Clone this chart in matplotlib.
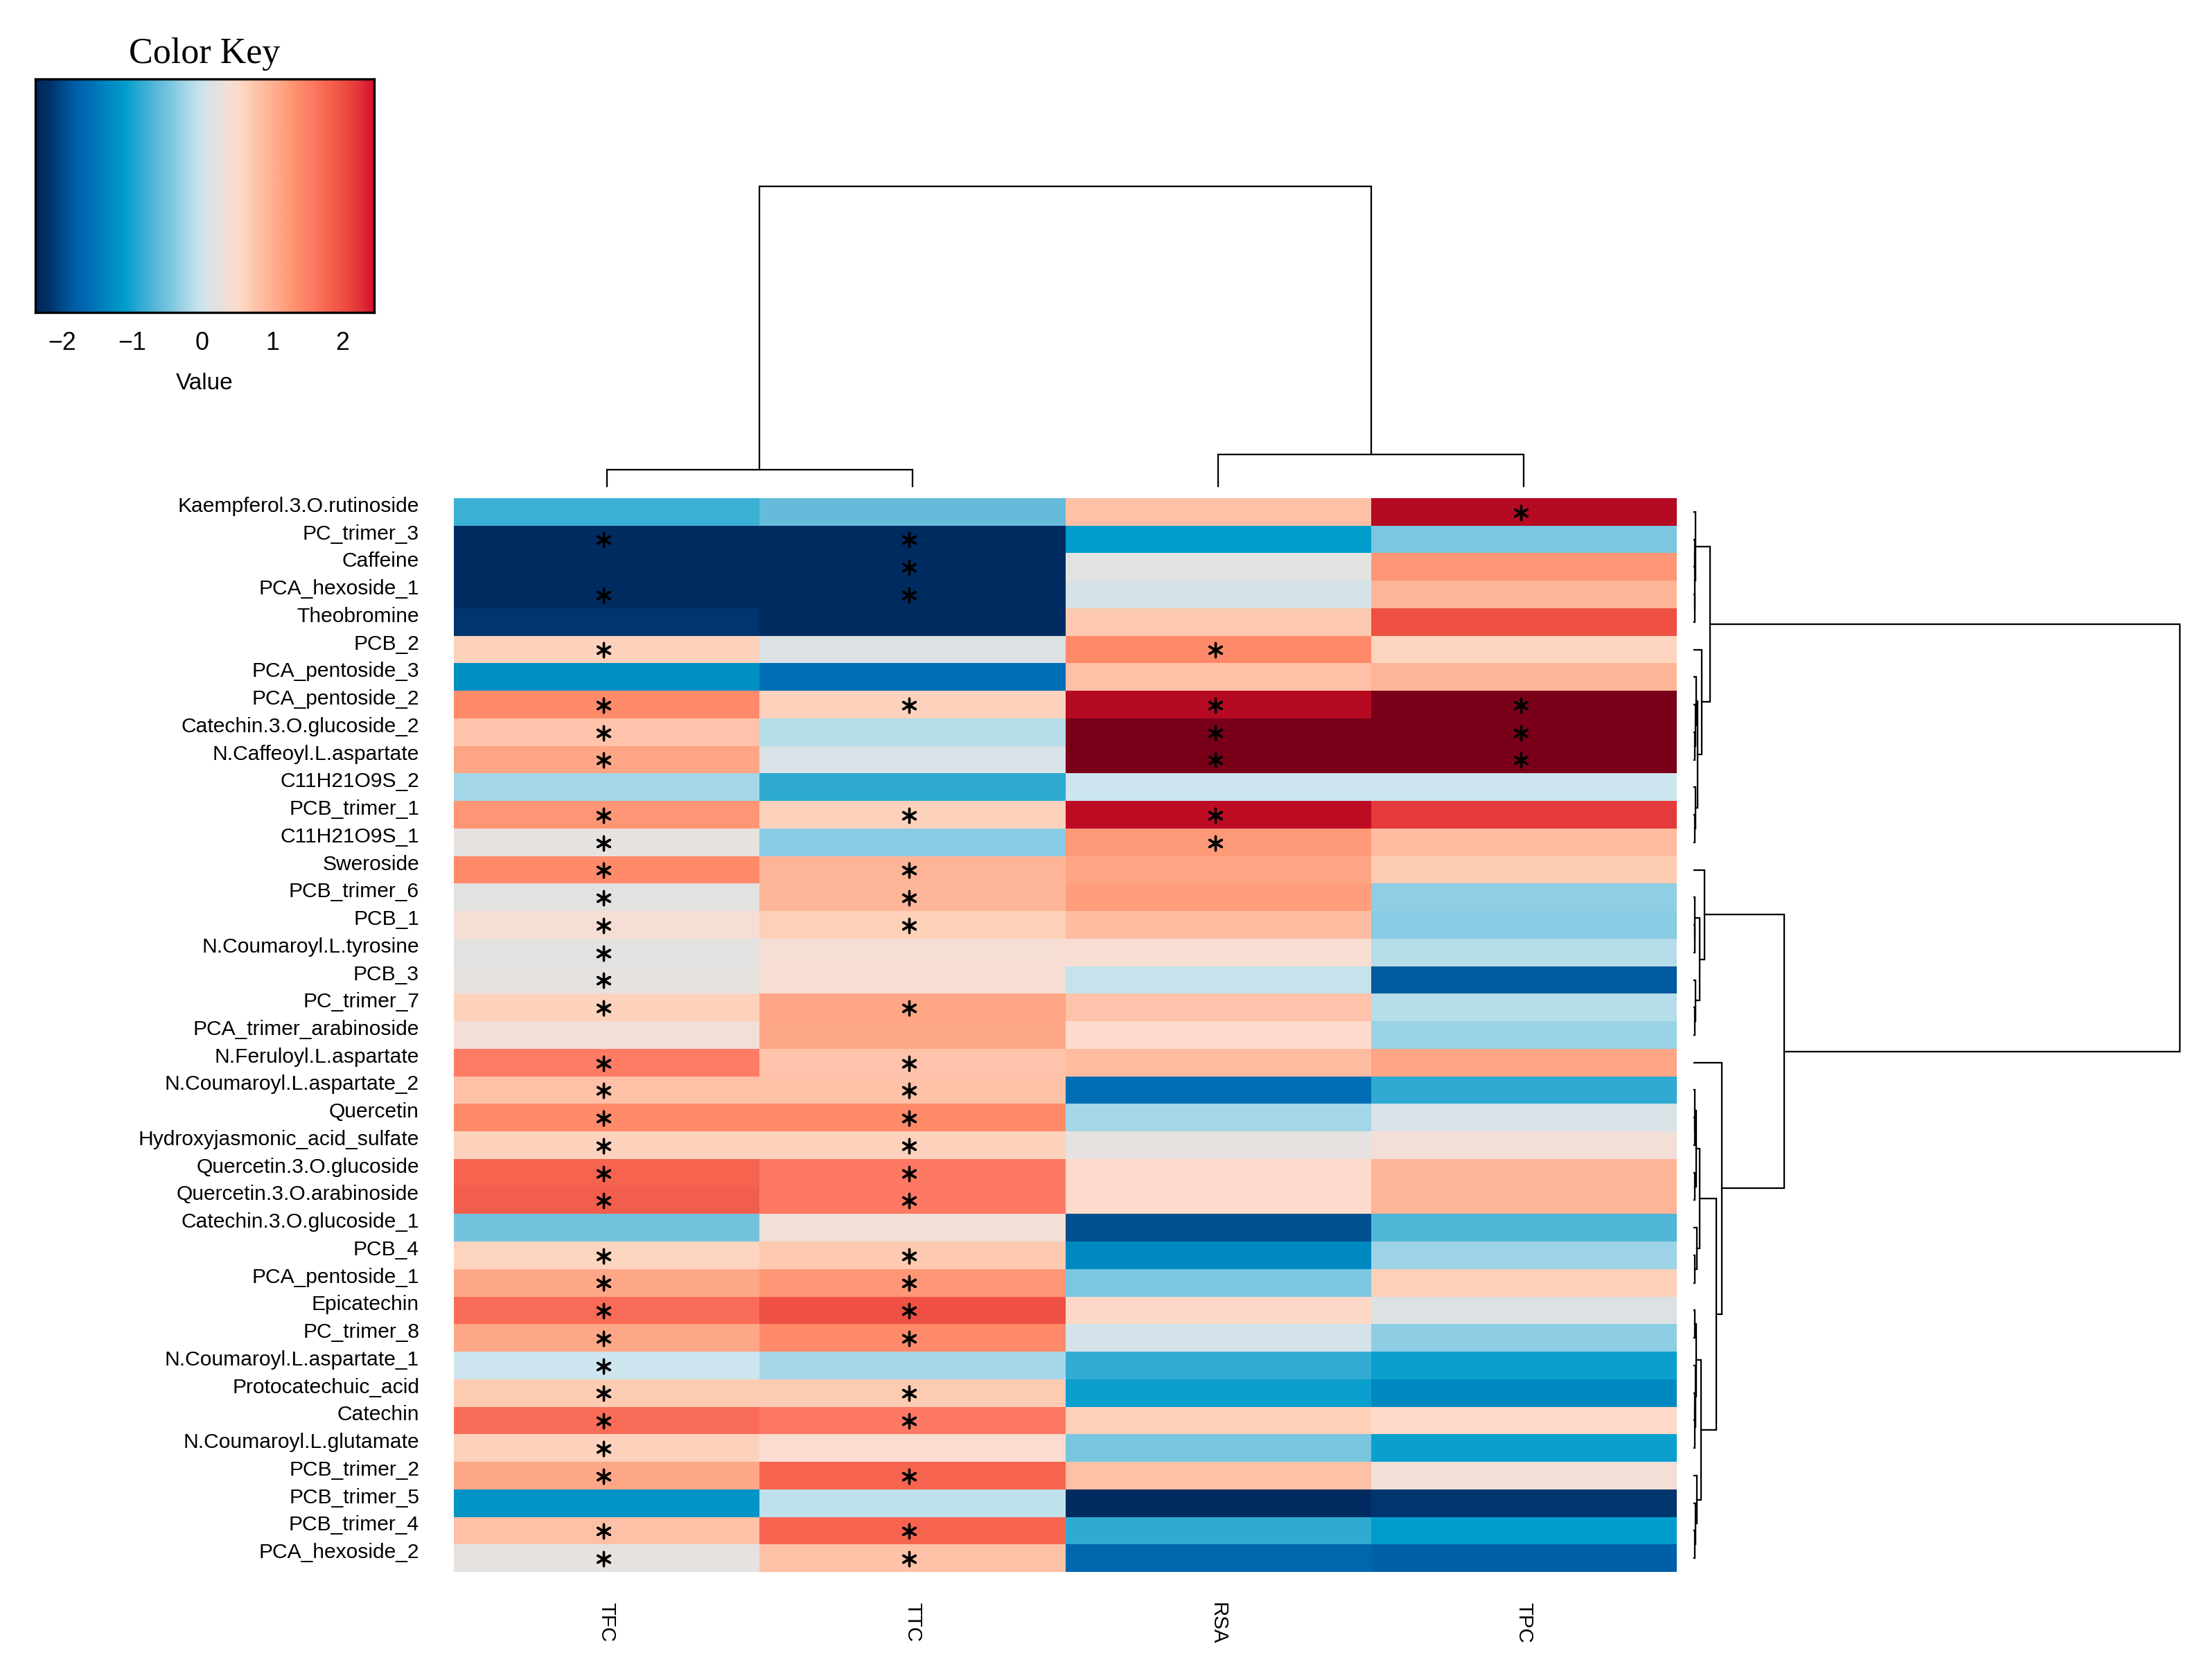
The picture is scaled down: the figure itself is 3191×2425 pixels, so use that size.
import numpy as np
import matplotlib
matplotlib.use("Agg")
import matplotlib.pyplot as plt
from matplotlib.colors import LinearSegmentedColormap, Normalize

# ---------------- data ----------------
rows = ["Kaempferol.3.O.rutinoside", "PC_trimer_3", "Caffeine", "PCA_hexoside_1",
        "Theobromine", "PCB_2", "PCA_pentoside_3", "PCA_pentoside_2",
        "Catechin.3.O.glucoside_2", "N.Caffeoyl.L.aspartate", "C11H21O9S_2",
        "PCB_trimer_1", "C11H21O9S_1", "Sweroside", "PCB_trimer_6", "PCB_1",
        "N.Coumaroyl.L.tyrosine", "PCB_3", "PC_trimer_7", "PCA_trimer_arabinoside",
        "N.Feruloyl.L.aspartate", "N.Coumaroyl.L.aspartate_2", "Quercetin",
        "Hydroxyjasmonic_acid_sulfate", "Quercetin.3.O.glucoside",
        "Quercetin.3.O.arabinoside", "Catechin.3.O.glucoside_1", "PCB_4",
        "PCA_pentoside_1", "Epicatechin", "PC_trimer_8", "N.Coumaroyl.L.aspartate_1",
        "Protocatechuic_acid", "Catechin", "N.Coumaroyl.L.glutamate", "PCB_trimer_2",
        "PCB_trimer_5", "PCB_trimer_4", "PCA_hexoside_2"]
cols = ["TFC", "TTC", "RSA", "TPC"]

TFC = [-0.8, -2.3, -2.3, -2.3, -2.15, 0.62, -1.28, 1.4, 0.77, 1.12, -0.25, 1.28, 0.25,
       1.4, 0.2, 0.4, 0.2, 0.25, 0.62, 0.35, 1.55, 0.8, 1.4, 0.62, 1.8, 1.87,
       -0.5, 0.6, 1.1, 1.72, 1.1, 0.0, 0.7, 1.72, 0.62, 1.1, -1.2, 0.8, 0.25]
TTC = [-0.6, -2.3, -2.3, -2.3, -2.3, 0.15, -1.6, 0.62, -0.15, 0.1, -0.9, 0.62, -0.38,
       0.95, 0.92, 0.65, 0.4, 0.42, 1.12, 1.1, 0.77, 0.78, 1.4, 0.62, 1.58, 1.58,
       0.35, 0.72, 1.28, 2.0, 1.4, -0.23, 0.7, 1.58, 0.45, 1.8, -0.08, 1.8, 0.78]
RSA = [0.8, -1.1, 0.2, 0.08, 0.72, 1.4, 0.8, 2.8, 3.3, 3.3, 0.0, 2.72, 1.25,
       1.12, 1.2, 0.85, 0.42, -0.05, 0.77, 0.5, 0.85, -1.6, -0.25, 0.25, 0.5, 0.5,
       -1.95, -1.35, -0.45, 0.55, 0.07, -0.87, -1.05, 0.65, -0.48, 0.8, -2.3, -0.9, -1.7]
TPC = [2.8, -0.45, 1.28, 0.95, 2.0, 0.6, 0.95, 3.3, 3.3, 3.3, 0.0, 2.2, 0.85,
       0.7, -0.35, -0.38, -0.15, -1.85, -0.15, -0.3, 1.12, -0.9, 0.1, 0.35, 0.95, 0.95,
       -0.7, -0.28, 0.65, 0.15, -0.36, -1.05, -1.35, 0.52, -1.05, 0.35, -2.15, -1.1, -1.8]

sig_TFC = [0, 1, 0, 1, 0, 1, 0, 1, 1, 1, 0, 1, 1, 1, 1, 1, 1, 1, 1, 0, 1, 1, 1, 1, 1, 1,
           0, 1, 1, 1, 1, 1, 1, 1, 1, 1, 0, 1, 1]
sig_TTC = [0, 1, 1, 1, 0, 0, 0, 1, 0, 0, 0, 1, 0, 1, 1, 1, 0, 0, 1, 0, 1, 1, 1, 1, 1, 1,
           0, 1, 1, 1, 1, 0, 1, 1, 0, 1, 0, 1, 1]
sig_RSA = [0, 0, 0, 0, 0, 1, 0, 1, 1, 1, 0, 1, 1, 0, 0, 0, 0, 0, 0, 0, 0, 0, 0, 0, 0, 0,
           0, 0, 0, 0, 0, 0, 0, 0, 0, 0, 0, 0, 0]
sig_TPC = [1, 0, 0, 0, 0, 0, 0, 1, 1, 1, 0, 0, 0, 0, 0, 0, 0, 0, 0, 0, 0, 0, 0, 0, 0, 0,
           0, 0, 0, 0, 0, 0, 0, 0, 0, 0, 0, 0, 0]

# dendrograms: [merge height, left, right]; ints are leaf indices
A1 = [3, 0, [2, [1, 1, 2], [1, 3, 4]]]
A2b = [10, [5, 6, [3, 7, [2, 8, 9]]], [4, 10, [2, 11, 12]]]
A2 = [22, 5, A2b]
A = [45, A1, A2]
B1b = [16, [2, 14, [1, 15, 16]], [3, 17, [1, 18, 19]]]
B1 = [30, 13, B1b]
B2b1 = [16, [5, [2, 21, [1, 22, 23]], [1, 24, 25]], [7, 26, [2, 27, 28]]]
B2b2 = [19, [5, [2, 29, 30], [3, 31, [2, [1, 32, 33], 34]]], [7, 35, [3, 36, [1, 37, 38]]]]
B2b = [63, B2b1, B2b2]
B2 = [80, 20, B2b]
B = [258, B1, B2]
row_tree = [1388, A, B]
col_tree = [433, [24, 0, 1], [46, 2, 3]]

key_min, key_max = -2.38, 2.45
key_ticks = [-2, -1, 0, 1, 2]

# ---------------- colours ----------------
cnodes = [(-2.4, "#00285A"), (-2.2, "#002F66"), (-2.0, "#004A88"), (-1.8, "#0060A8"),
          (-1.6, "#006EB5"), (-1.35, "#0088C0"), (-1.1, "#009CCC"), (-0.9, "#2EAAD3"),
          (-0.8, "#3CB0D4"), (-0.6, "#64BCDA"), (-0.45, "#7CC7E0"), (-0.3, "#9AD2E6"),
          (-0.15, "#B5DDEA"), (0.0, "#CCE5EE"), (0.15, "#DDE1E3"), (0.25, "#E6E2DF"),
          (0.35, "#F2DFD8"), (0.5, "#FDDBCC"), (0.65, "#FDD0B8"), (0.8, "#FEC0A6"),
          (1.0, "#FEB092"), (1.2, "#FE9E7C"), (1.4, "#FE8A6A"), (1.6, "#FE7862"),
          (1.8, "#F66450"), (2.0, "#EE5044"), (2.2, "#E43A3C"), (2.45, "#D8102C"),
          (2.8, "#B50A22"), (3.3, "#7A0019")]
vmin, vmax = cnodes[0][0], cnodes[-1][0]
cmap = LinearSegmentedColormap.from_list(
    "key", [((v - vmin) / (vmax - vmin), c) for v, c in cnodes], N=1024)
norm = Normalize(vmin=vmin, vmax=vmax)

# ---------------- figure ----------------
W, H, DPI = 3191, 2425, 300
fig = plt.figure(figsize=(W / DPI, H / DPI), dpi=DPI)
plt.rcParams['font.family'] = ['Liberation Sans', 'DejaVu Sans']


def px_axes(x0, y0, x1, y1):
    return fig.add_axes([x0 / W, 1 - y1 / H, (x1 - x0) / W, (y1 - y0) / H])


data = np.array([TFC, TTC, RSA, TPC]).T
sig = np.array([sig_TFC, sig_TTC, sig_RSA, sig_TPC]).T
nr, nc = data.shape

# heatmap
hx0, hy0, hx1, hy1 = 655, 719, 2420, 2269
ax = px_axes(hx0, hy0, hx1, hy1)
ax.pcolormesh(np.arange(nc + 1), np.arange(nr + 1), data, cmap=cmap, norm=norm)
ri, ci = np.nonzero(sig)
ax.scatter(ci + 0.49, ri + 0.52, marker=(6, 2, 0), s=24, c="black", linewidths=0.8)
ax.set_xlim(0, nc)
ax.set_ylim(nr, 0)
ax.set_xticks(np.arange(nc) + 0.5)
ax.set_xticklabels(cols, rotation=270, fontsize=7.1, va="top", ha="center")
ax.set_yticks(np.arange(nr) + 0.5)
ax.set_yticklabels(rows, fontsize=7.2, va="baseline")
ax.tick_params(axis="x", length=0, pad=10.5)
ax.tick_params(axis="y", length=0, pad=12)
for s in ax.spines.values():
    s.set_visible(False)


def draw_tree(axd, node, orient):
    if isinstance(node, int):
        return node + 0.5, 0.0
    h, l, r = node
    pl, hl = draw_tree(axd, l, orient)
    pr, hr = draw_tree(axd, r, orient)
    if orient == "row":
        axd.plot([hl, h, h, hr], [pl, pl, pr, pr], color="black", lw=0.55,
                 clip_on=False, solid_joinstyle="miter")
    else:
        axd.plot([pl, pl, pr, pr], [hl, h, h, hr], color="black", lw=0.55,
                 clip_on=False, solid_joinstyle="miter")
    return (pl + pr) / 2, h


# row dendrogram
axr = px_axes(2445, hy0, 3146, hy1)
draw_tree(axr, row_tree, "row")
axr.set_xlim(0, row_tree[0])
axr.set_ylim(nr, 0)
axr.axis("off")

# column dendrogram
axc = px_axes(hx0, 269, hx1, 702)
draw_tree(axc, col_tree, "col")
axc.set_xlim(0, nc)
axc.set_ylim(0, col_tree[0])
axc.axis("off")

# colour key
axk = px_axes(51, 114, 540, 451)
grad = np.linspace(key_min, key_max, 600)[None, :]
axk.imshow(grad, aspect="auto", cmap=cmap, norm=norm,
           extent=(key_min, key_max, 0, 1), interpolation="bilinear")
axk.set_xlim(key_min, key_max)
axk.set_ylim(0, 1)
axk.set_yticks([])
axk.set_xticks(key_ticks)
axk.set_xticklabels(["\u22122", "\u22121", "0", "1", "2"], fontsize=8.6)
axk.tick_params(axis="x", length=0, pad=6.5)
axk.set_xlabel("Value", fontsize=8.0, labelpad=6)
for s in axk.spines.values():
    s.set_linewidth(0.8)
    s.set_color("black")
axk.set_title("Color Key", fontsize=12.5, family=["Liberation Serif", "DejaVu Serif"],
              pad=5.5)

fig.savefig("out.png", dpi=DPI, facecolor="white")
